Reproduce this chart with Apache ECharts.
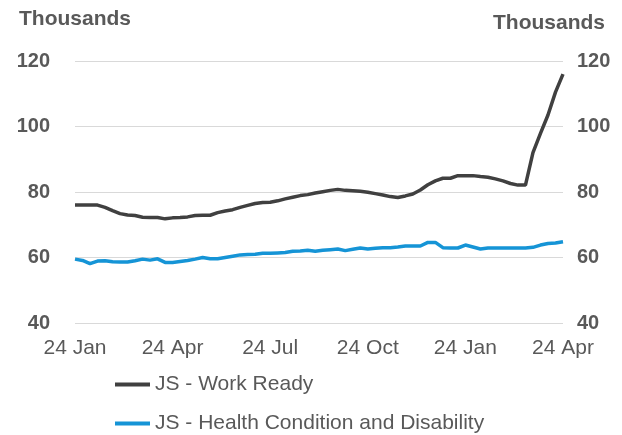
<!DOCTYPE html>
<html>
<head>
<meta charset="utf-8">
<script src="https://cdn.jsdelivr.net/npm/echarts@6/dist/echarts.min.js"></script>
<style>
  html, body { margin: 0; padding: 0; background: #fff; }
  #chart { width: 622px; height: 435px; }
</style>
</head>
<body>
<div id="chart"></div>
<script>
// weekly points, Jan 2023 -> Apr 2024 (thousands)
const quarterLabels = ["24 Jan", "24 Apr", "24 Jul", "24 Oct", "24 Jan", "24 Apr"];
const weeksPerQuarter = 13;

const workReady = [
  76, 76, 76, 76, 75.3, 74.3, 73.4, 73.0, 72.8, 72.3, 72.2, 72.2, 71.8,
  72.1, 72.2, 72.4, 72.8, 72.9, 72.9, 73.7, 74.2, 74.6, 75.3, 75.9, 76.5, 76.8,
  76.9, 77.3, 77.9, 78.4, 78.9, 79.2, 79.7, 80.1, 80.5, 80.8, 80.5, 80.4, 80.2,
  79.9, 79.5, 79.1, 78.6, 78.3, 78.8, 79.4, 80.6, 82.2, 83.4, 84.2, 84.2, 85,
  85, 85, 84.7, 84.5, 84, 83.4, 82.6, 82.1, 82.1, 92, 97.9, 103.5, 110.5,
  116
];

const healthCondition = [
  59.5, 59.1, 58.1, 58.9, 59, 58.7, 58.6, 58.6, 59, 59.5, 59.2, 59.6, 58.5,
  58.5, 58.8, 59.1, 59.5, 60, 59.6, 59.6, 60, 60.4, 60.8, 60.9, 61, 61.3,
  61.3, 61.4, 61.5, 61.9, 62, 62.2, 61.9, 62.2, 62.4, 62.6, 62.1, 62.5, 62.9,
  62.6, 62.8, 63, 63, 63.2, 63.5, 63.5, 63.5, 64.6, 64.6, 63, 62.9, 62.9,
  63.8, 63.2, 62.6, 62.9, 62.9, 62.9, 62.9, 62.9, 62.9, 63.1, 63.8, 64.3, 64.4,
  64.8
];

const seriesNames = ["JS - Work Ready", "JS - Health Condition and Disability"];

const categories = workReady.map((_v, i) =>
  i % weeksPerQuarter === 0 ? quarterLabels[i / weeksPerQuarter] : "w" + i
);

const textColor = "#595959";
const font = "Liberation Sans, Arial, sans-serif";

const chart = echarts.init(document.getElementById("chart"), null, { renderer: "canvas" });

function yAxisCfg(pos) {
  return {
    type: "value",
    position: pos,
    min: 40,
    max: 120,
    interval: 20,
    name: "Thousands",
    nameLocation: "end",
    nameGap: pos === "left" ? 31 : 27,
    nameTextStyle: {
      color: textColor,
      fontFamily: font,
      fontSize: 21,
      fontWeight: "bold",
      align: pos === "left" ? "center" : "right",
      padding: pos === "left" ? [0, 0, 0, 0] : [0, -42, 0, 0],
    },
    axisLine: { show: false },
    axisTick: { show: false },
    axisLabel: {
      color: textColor,
      fontFamily: font,
      fontSize: 20,
      fontWeight: "bold",
      margin: pos === "left" ? 25 : 14,
    },
    splitLine: { show: pos === "left", lineStyle: { color: "#d9d9d9", width: 1 } },
  };
}

chart.setOption({
  animation: false,
  grid: { left: 75, right: 59, top: 61, bottom: 112, containLabel: false },
  legend: {
    orient: "vertical",
    left: 115,
    bottom: 1,
    padding: 0,
    itemGap: 18,
    itemWidth: 35,
    itemHeight: 4,
    icon: "rect",
    textStyle: { color: textColor, fontFamily: font, fontSize: 21 },
    data: seriesNames,
  },
  xAxis: {
    type: "category",
    boundaryGap: false,
    data: categories,
    axisLine: { show: false },
    axisTick: { show: false },
    axisLabel: {
      interval: weeksPerQuarter - 1,
      color: textColor,
      fontFamily: font,
      fontSize: 21,
      margin: 15,
    },
    splitLine: { show: false },
  },
  yAxis: [yAxisCfg("left"), yAxisCfg("right")],
  series: [
    {
      name: seriesNames[0],
      type: "line",
      data: workReady,
      symbol: "none",
      lineStyle: { color: "#404040", width: 3.5 },
      itemStyle: { color: "#404040" },
    },
    {
      name: seriesNames[1],
      type: "line",
      data: healthCondition,
      symbol: "none",
      lineStyle: { color: "#1594d6", width: 3.5 },
      itemStyle: { color: "#1594d6" },
    },
  ],
});
</script>
</body>
</html>
